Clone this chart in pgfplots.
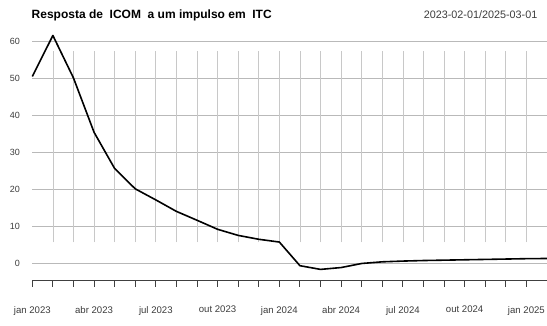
\documentclass[border=0pt]{standalone}
\usepackage{fontspec}
\setmainfont{Liberation Sans}
\usepackage{pgfplots}
\pgfplotsset{compat=1.18}

\definecolor{vgrid}{RGB}{200,200,200}
\definecolor{hgrid}{RGB}{185,185,185}
\definecolor{labgray}{RGB}{60,60,60}

\begin{document}
\begin{tikzpicture}
\path[use as bounding box] (0pt,0pt) rectangle (547pt,325pt);
\node[anchor=west, font=\bfseries\fontsize{12}{13}\selectfont, inner sep=0pt]
  at (31.5pt,310pt) {Resposta de\ \ ICOM\ \ a um impulso em\ \ ITC};
\node[anchor=east, text=labgray, font=\fontsize{10.8}{12}\selectfont, inner sep=0pt]
  at (537.5pt,310pt) {2023-02-01/2025-03-01};
\begin{axis}[
  at={(32.3pt,44.3pt)}, anchor=south west,
  scale only axis, width=514.7pt, height=246.7pt,
  xmin=0, xmax=25, ymin=-4.76, ymax=62,
  axis x line*=bottom,
  axis y line*=left,
  y axis line style={draw=none},
  x axis line style={draw=darkgray, line width=1.5pt},
  xtick={0,...,25},
  xticklabels={jan 2023,,,abr 2023,,,jul 2023,,,out 2023,,,jan 2024,,,abr 2024,,,jul 2024,,,out 2024,,,jan 2025,},
  xtick align=outside,
  major tick length=6pt,
  xtick style={draw=darkgray, line width=1pt},
  xticklabel style={font=\fontsize{9.6}{11}\selectfont, text=labgray, anchor=north, yshift=-16pt},
  ytick={0,10,...,60},
  ytick style={draw=none},
  /pgf/number format/assume math mode=true,
  yticklabel style={font=\fontsize{9}{11}\selectfont, text=labgray, anchor=east, xshift=-9pt},
  ymajorgrids,
  grid style={draw=hgrid, line width=0.7pt},
  clip=false,
]
% monthly vertical guides
\pgfplotsinvokeforeach{1,...,25}{
  \draw[vgrid, line width=0.7pt] (axis cs:#1,5.6) -- (axis cs:#1,57.3);
}
% time axis baseline and month ticks
\draw[draw=darkgray, line width=1.4pt] (axis cs:0,-4.76) -- (axis cs:25,-4.76);
\pgfplotsinvokeforeach{0,...,25}{
  \draw[draw=darkgray, line width=1pt] (axis cs:#1,-4.76) -- ++(0pt,-6pt);
}
\addplot[black, line width=1.6pt, line join=round] coordinates {
  (0,50.5) (1,61.6) (2,50.1) (3,35.4) (4,25.6) (5,20.1) (6,17.1)
  (7,14.0) (8,11.6) (9,9.15) (10,7.5) (11,6.45) (12,5.7) (13,-0.7)
  (14,-1.7) (15,-1.2) (16,-0.1) (17,0.35) (18,0.55) (19,0.7) (20,0.8)
  (21,0.9) (22,1.0) (23,1.1) (24,1.2) (25,1.25)
};
\end{axis}
\end{tikzpicture}
\end{document}
